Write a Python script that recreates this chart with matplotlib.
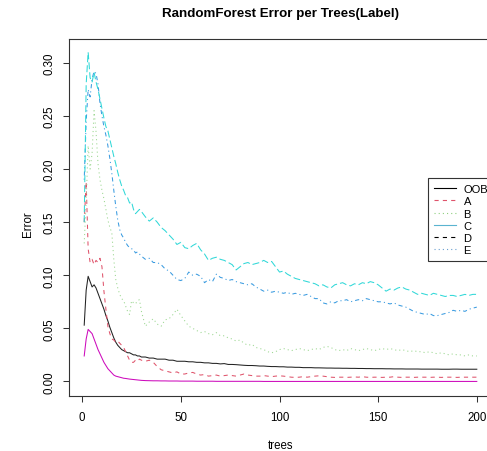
import matplotlib
matplotlib.use("Agg")
import matplotlib.pyplot as plt
from matplotlib.lines import Line2D

plt.rcParams['font.family'] = ['Liberation Sans', 'DejaVu Sans']
plt.rcParams['lines.scale_dashes'] = False

# ---- data ----
trees_early = list(range(1, 31))
trees_late = list(range(32, 201, 2))
trees = trees_early + trees_late

oob = [
    0.053, 0.086, 0.099, 0.094, 0.089, 0.091, 0.088, 0.083, 0.078, 0.073,
    0.068, 0.062, 0.057, 0.051, 0.046, 0.041, 0.037, 0.034, 0.032, 0.030,
    0.029, 0.028, 0.027, 0.027, 0.026, 0.025, 0.025, 0.024, 0.024, 0.023,
    0.023, 0.022, 0.022, 0.021, 0.021, 0.021, 0.020, 0.020, 0.019, 0.019,
    0.019, 0.0185, 0.0185, 0.018, 0.018, 0.0175, 0.0175, 0.017, 0.017, 0.0165,
    0.0168, 0.016, 0.016, 0.0158, 0.0155, 0.0152, 0.015, 0.015, 0.0148, 0.0145,
    0.0145, 0.0142, 0.014, 0.014, 0.0138, 0.0138, 0.0135, 0.0135, 0.0133, 0.0133,
    0.013, 0.013, 0.013, 0.0128, 0.0128, 0.0127, 0.0126, 0.0126, 0.0125, 0.0125,
    0.0124, 0.0124, 0.0123, 0.0123, 0.0122, 0.0122, 0.0121, 0.0121, 0.012, 0.012,
    0.012, 0.0119, 0.0119, 0.0118, 0.0118, 0.0118, 0.0117, 0.0117, 0.0117, 0.0117,
    0.0116, 0.0116, 0.0116, 0.0116, 0.0116, 0.0115, 0.0115, 0.0115, 0.0116, 0.0116,
    0.0115, 0.0115, 0.0115, 0.0115, 0.0115,
]
err_a = [
    0.150, 0.188, 0.125, 0.112, 0.115, 0.110, 0.114, 0.112, 0.116, 0.108,
    0.085, 0.068, 0.052, 0.045, 0.040, 0.039, 0.037, 0.038, 0.036, 0.034,
    0.032, 0.028, 0.024, 0.020, 0.018, 0.018, 0.020, 0.019, 0.021, 0.020,
    0.019, 0.020, 0.018, 0.014, 0.011, 0.010, 0.009, 0.008, 0.009, 0.007,
    0.007, 0.008, 0.0085, 0.007, 0.006, 0.0065, 0.005, 0.0055, 0.006, 0.005,
    0.0055, 0.006, 0.0055, 0.005, 0.006, 0.007, 0.006, 0.0055, 0.005, 0.005,
    0.0055, 0.005, 0.0045, 0.005, 0.0053, 0.005, 0.0045, 0.004, 0.0038, 0.004,
    0.0045, 0.004, 0.0045, 0.005, 0.0053, 0.005, 0.0045, 0.004, 0.0038, 0.004,
    0.004, 0.0038, 0.004, 0.0042, 0.004, 0.0045, 0.004, 0.0038, 0.004, 0.004,
    0.0038, 0.004, 0.004, 0.0045, 0.004, 0.0038, 0.004, 0.004, 0.0038, 0.004,
    0.004, 0.004, 0.0038, 0.004, 0.004, 0.0038, 0.004, 0.004, 0.004, 0.0038,
    0.004, 0.004, 0.004, 0.004, 0.004,
]
err_b = [
    0.130, 0.170, 0.222, 0.200, 0.215, 0.255, 0.235, 0.205, 0.190, 0.180,
    0.172, 0.162, 0.152, 0.145, 0.140, 0.115, 0.096, 0.088, 0.082, 0.078,
    0.076, 0.071, 0.066, 0.063, 0.076, 0.074, 0.073, 0.076, 0.077, 0.066,
    0.052, 0.056, 0.059, 0.054, 0.052, 0.058, 0.059, 0.063, 0.068, 0.062,
    0.057, 0.052, 0.050, 0.048, 0.046, 0.047, 0.045, 0.044, 0.046, 0.043,
    0.043, 0.041, 0.040, 0.038, 0.039, 0.036, 0.034, 0.035, 0.032, 0.031,
    0.030, 0.028, 0.027, 0.028, 0.030, 0.031, 0.030, 0.029, 0.030, 0.031,
    0.030, 0.029, 0.030, 0.031, 0.030, 0.032, 0.033, 0.032, 0.030, 0.029,
    0.030, 0.029, 0.031, 0.030, 0.029, 0.030, 0.031, 0.030, 0.029, 0.030,
    0.031, 0.030, 0.031, 0.030, 0.029, 0.030, 0.029, 0.028, 0.029, 0.028,
    0.028, 0.027, 0.028, 0.027, 0.026, 0.027, 0.026, 0.025, 0.026, 0.025,
    0.025, 0.024, 0.025, 0.024, 0.024,
]
err_c = [
    0.190, 0.245, 0.275, 0.268, 0.285, 0.292, 0.290, 0.280, 0.262, 0.250,
    0.240, 0.232, 0.222, 0.210, 0.196, 0.180, 0.165, 0.152, 0.143, 0.138,
    0.135, 0.131, 0.128, 0.126, 0.125, 0.124, 0.121, 0.122, 0.120, 0.118,
    0.115, 0.116, 0.112, 0.112, 0.110, 0.106, 0.104, 0.100, 0.096, 0.095,
    0.097, 0.103, 0.100, 0.101, 0.099, 0.093, 0.096, 0.094, 0.101, 0.098,
    0.097, 0.095, 0.096, 0.094, 0.093, 0.092, 0.091, 0.092, 0.089, 0.087,
    0.085, 0.086, 0.084, 0.085, 0.084, 0.083, 0.084, 0.082, 0.083, 0.082,
    0.081, 0.082, 0.080, 0.078, 0.078, 0.074, 0.073, 0.075, 0.074, 0.076,
    0.076, 0.077, 0.075, 0.076, 0.077, 0.076, 0.078, 0.077, 0.076, 0.075,
    0.075, 0.074, 0.073, 0.074, 0.072, 0.071, 0.070, 0.068, 0.066, 0.065,
    0.064, 0.063, 0.064, 0.062, 0.062, 0.063, 0.064, 0.065, 0.067, 0.066,
    0.067, 0.066, 0.068, 0.069, 0.070,
]
err_d = [
    0.150, 0.280, 0.310, 0.286, 0.282, 0.291, 0.282, 0.275, 0.266, 0.257,
    0.248, 0.240, 0.236, 0.228, 0.220, 0.212, 0.205, 0.197, 0.190, 0.184,
    0.180, 0.175, 0.173, 0.168, 0.169, 0.162, 0.158, 0.160, 0.162, 0.160,
    0.155, 0.151, 0.154, 0.150, 0.145, 0.142, 0.138, 0.134, 0.129, 0.131,
    0.126, 0.125, 0.128, 0.130, 0.124, 0.120, 0.114, 0.116, 0.117, 0.115,
    0.114, 0.112, 0.110, 0.105, 0.108, 0.111, 0.112, 0.110, 0.111, 0.112,
    0.114, 0.112, 0.113, 0.108, 0.103, 0.104, 0.101, 0.099, 0.097, 0.096,
    0.095, 0.094, 0.093, 0.092, 0.090, 0.091, 0.089, 0.088, 0.091, 0.092,
    0.093, 0.091, 0.090, 0.092, 0.091, 0.093, 0.092, 0.094, 0.093, 0.091,
    0.088, 0.085, 0.087, 0.086, 0.088, 0.089, 0.087, 0.086, 0.084, 0.082,
    0.083, 0.082, 0.081, 0.083, 0.082, 0.081, 0.080, 0.081, 0.081, 0.080,
    0.081, 0.082, 0.081, 0.082, 0.082,
]
err_e = [
    0.024, 0.040, 0.049, 0.047, 0.045, 0.040, 0.035, 0.030, 0.026, 0.022,
    0.018, 0.015, 0.012, 0.010, 0.008, 0.006, 0.005, 0.0045, 0.004, 0.0035,
    0.003, 0.0028, 0.0025, 0.0022, 0.002, 0.0018, 0.0016, 0.0014, 0.0012, 0.001,
    0.0008, 0.0007, 0.0006, 0.0006, 0.0005, 0.0005, 0.0004, 0.0004, 0.0004, 0.0003,
    0.0003, 0.0003, 0.0003, 0.0002, 0.0002, 0.0002, 0.0002, 0.0002, 0.0001, 0.0001,
    0.0001, 0.0001, 0.0001, 0.0001, 0.0001, 0.0001, 0.0001, 0.0001, 0.0001, 0.0001,
    0.0, 0.0, 0.0, 0.0, 0.0, 0.0, 0.0, 0.0, 0.0, 0.0,
    0.0, 0.0, 0.0, 0.0, 0.0, 0.0, 0.0, 0.0, 0.0, 0.0,
    0.0, 0.0, 0.0, 0.0, 0.0, 0.0, 0.0, 0.0, 0.0, 0.0,
    0.0, 0.0, 0.0, 0.0, 0.0, 0.0, 0.0, 0.0, 0.0, 0.0,
    0.0, 0.0, 0.0, 0.0, 0.0, 0.0, 0.0, 0.0, 0.0, 0.0,
    0.0, 0.0, 0.0, 0.0, 0.0,
]

series_names = ["OOB", "A", "B", "C", "D", "E"]
series_values = [oob, err_a, err_b, err_c, err_d, err_e]
x_ticks = [0, 50, 100, 150, 200]
y_ticks = [0.00, 0.05, 0.10, 0.15, 0.20, 0.25, 0.30]
y_tick_labels = ["0.00", "0.05", "0.10", "0.15", "0.20", "0.25", "0.30"]

# ---- styles (R matplot defaults, as rendered) ----
line_colors = ["#222222", "#DF536B", "#9ED893", "#3A9BE0", "#30D8D8", "#CD0BBC"]
line_dashes = [None, (3, 3), (0.8, 2.2), (0.8, 2.2, 3, 2.2), (5, 2.2), None]

W, H = 487, 452
fig = plt.figure(figsize=(W / 100, H / 100), dpi=100)
left_px, right_px, top_px, bottom_px = 68.5, 492.5, 40, 397.3
ax = fig.add_axes([left_px / W, 1 - bottom_px / H,
                   (right_px - left_px) / W, (bottom_px - top_px) / H])

for vals, col, dash in zip(series_values, line_colors, line_dashes):
    ln, = ax.plot(trees, vals, color=col, lw=0.75)
    if dash is not None:
        ln.set_dashes(dash)

ax.set_xlim(-6.96, 207.96)
ax.set_ylim(-0.014, 0.3225)
ax.set_xticks(x_ticks)
ax.set_xticklabels([str(v) for v in x_ticks])
ax.set_yticks(y_ticks)
ax.set_yticklabels(y_tick_labels, rotation=90, va='center')
ax.tick_params(axis='both', length=4.3, width=0.75, labelsize=8.3, color='#333333')
ax.tick_params(axis='x', pad=6)
ax.tick_params(axis='y', pad=5)
for sp in ax.spines.values():
    sp.set_linewidth(0.8)
    sp.set_color('#333333')

fig.text(280.5 / W, 1 - 14 / H, "RandomForest Error per Trees(Label)",
         ha='center', va='center', fontsize=9.6, fontweight='bold')
fig.text(280.5 / W, 1 - 446 / H, "trees", ha='center', va='center', fontsize=8.3)
fig.text(28 / W, 1 - 224 / H, "Error", ha='center', va='center',
         fontsize=8.3, rotation=90)

# legend as drawn in the reference
leg_colors = ["#000000", "#DF536B", "#8FD07F", "#5AB4D0", "#000000", "#6A9FD0"]
leg_styles = ['-', (0, (3, 3)), (0, (0.8, 2.2)), '-', (0, (3, 3)), (0, (0.8, 2.2))]
handles = [Line2D([0], [0], color=c, ls=s, lw=0.8) for c, s in zip(leg_colors, leg_styles)]
leg = ax.legend(handles, series_names, loc='upper left',
                bbox_to_anchor=(428 / W, 1 - 179 / H), bbox_transform=fig.transFigure,
                fontsize=8.0, frameon=True, fancybox=False, framealpha=1,
                edgecolor='#333333', handlelength=1.95, handletextpad=0.7,
                borderpad=0.55, labelspacing=0.2, borderaxespad=0)
leg.get_frame().set_linewidth(0.8)

fig.savefig("out.png", dpi=100)
